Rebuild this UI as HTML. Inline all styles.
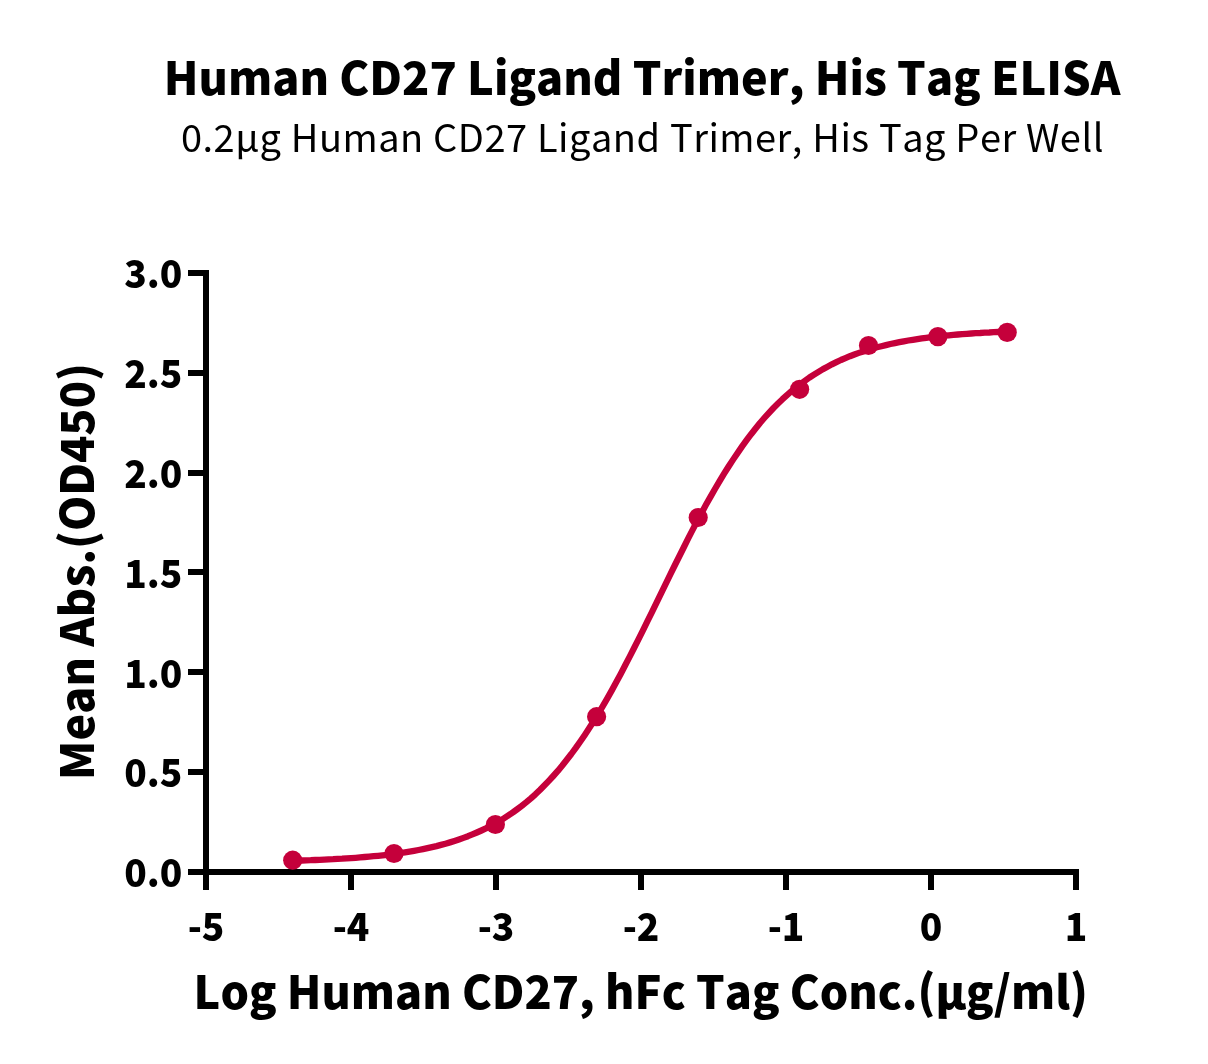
<!DOCTYPE html>
<html lang="en"><head><meta charset="utf-8"><title>Human CD27 Ligand Trimer, His Tag ELISA</title>
<style>
html,body{margin:0;padding:0;background:#fff;}
body{width:1208px;height:1064px;overflow:hidden;}
svg{display:block;}
text{font-family:"Noto Sans CJK SC", "Liberation Sans", sans-serif;fill:#000;font-kerning:none;}
</style></head><body>
<svg width="1208" height="1064" viewBox="0 0 1208 1064">
<rect width="1208" height="1064" fill="#fff"/>
<!-- titles -->
<text transform="translate(163.8,94.5) scale(0.977,1)" font-size="46" font-weight="900">Human CD27 Ligand Trimer, His Tag ELISA</text>
<text transform="translate(180.9,151.5) scale(1,1)" font-size="38" font-weight="400" letter-spacing="0.5" word-spacing="0.3">0.2µg Human CD27 Ligand Trimer, His Tag Per Well</text>
<!-- axes -->
<g fill="#000" shape-rendering="crispEdges">
<rect x="203" y="270" width="6" height="620"/>
<rect x="188" y="869" width="891" height="6"/>
<rect x="188" y="270" width="15" height="6"/>
<rect x="188" y="370" width="15" height="6"/>
<rect x="188" y="470" width="15" height="6"/>
<rect x="188" y="569" width="15" height="6"/>
<rect x="188" y="669" width="15" height="6"/>
<rect x="188" y="769" width="15" height="6"/>
<rect x="348" y="875" width="6" height="15"/>
<rect x="493" y="875" width="6" height="15"/>
<rect x="638" y="875" width="6" height="15"/>
<rect x="783" y="875" width="6" height="15"/>
<rect x="928" y="875" width="6" height="15"/>
<rect x="1073" y="875" width="6" height="15"/>
</g>
<!-- y tick labels -->
<g font-size="38.8" font-weight="900" text-anchor="end">
<text transform="translate(182.3,288.3) scale(0.955,1)">3.0</text>
<text transform="translate(182.3,388.133) scale(0.955,1)">2.5</text>
<text transform="translate(182.3,487.967) scale(0.955,1)">2.0</text>
<text transform="translate(182.3,587.8) scale(0.955,1)">1.5</text>
<text transform="translate(182.3,687.633) scale(0.955,1)">1.0</text>
<text transform="translate(182.3,787.467) scale(0.955,1)">0.5</text>
<text transform="translate(182.3,887.3) scale(0.955,1)">0.0</text>
</g>
<!-- x tick labels -->
<g font-size="38.8" font-weight="900" text-anchor="middle">
<text transform="translate(206,941.3) scale(0.955,1)">-5</text>
<text transform="translate(351,941.3) scale(0.955,1)">-4</text>
<text transform="translate(496,941.3) scale(0.955,1)">-3</text>
<text transform="translate(641,941.3) scale(0.955,1)">-2</text>
<text transform="translate(786,941.3) scale(0.955,1)">-1</text>
<text transform="translate(931,941.3) scale(0.955,1)">0</text>
<text transform="translate(1076,941.3) scale(0.955,1)">1</text>
</g>
<!-- axis titles -->
<text transform="translate(193.6,1008.9) scale(0.975,1)" font-size="46" font-weight="900">Log Human CD27, hFc Tag Conc.(µg/ml)</text>
<text transform="translate(93.9,779.9) rotate(-90) scale(0.987,1)" font-size="45.5" font-weight="900">Mean Abs.(OD450)</text>
<!-- fitted curve and data points -->
<path d="M292.7,860.8 L297.2,860.6 L301.7,860.5 L306.2,860.3 L310.7,860.2 L315.2,860.0 L319.7,859.8 L324.2,859.6 L328.6,859.4 L333.1,859.2 L337.6,858.9 L342.1,858.7 L346.6,858.4 L351.1,858.1 L355.6,857.8 L360.1,857.4 L364.6,857.0 L369.1,856.6 L373.6,856.2 L378.1,855.8 L382.6,855.3 L387.1,854.8 L391.6,854.2 L396.1,853.6 L400.5,853.0 L405.0,852.3 L409.5,851.6 L414.0,850.8 L418.5,850.0 L423.0,849.1 L427.5,848.1 L432.0,847.1 L436.5,846.1 L441.0,844.9 L445.5,843.7 L450.0,842.4 L454.5,841.0 L459.0,839.5 L463.5,837.9 L468.0,836.2 L472.4,834.4 L476.9,832.5 L481.4,830.5 L485.9,828.4 L490.4,826.1 L494.9,823.6 L499.4,821.1 L503.9,818.3 L508.4,815.4 L512.9,812.4 L517.4,809.1 L521.9,805.7 L526.4,802.1 L530.9,798.3 L535.4,794.3 L539.9,790.0 L544.3,785.6 L548.8,780.9 L553.3,776.0 L557.8,770.9 L562.3,765.5 L566.8,759.8 L571.3,754.0 L575.8,747.9 L580.3,741.5 L584.8,734.9 L589.3,728.1 L593.8,721.0 L598.3,713.7 L602.8,706.1 L607.3,698.4 L611.8,690.4 L616.2,682.2 L620.7,673.9 L625.2,665.3 L629.7,656.6 L634.2,647.8 L638.7,638.9 L643.2,629.8 L647.7,620.7 L652.2,611.6 L656.7,602.3 L661.2,593.1 L665.7,583.9 L670.2,574.7 L674.7,565.5 L679.2,556.5 L683.7,547.5 L688.1,538.6 L692.6,529.9 L697.1,521.3 L701.6,512.9 L706.1,504.6 L710.6,496.6 L715.1,488.7 L719.6,481.1 L724.1,473.7 L728.6,466.5 L733.1,459.6 L737.6,452.9 L742.1,446.4 L746.6,440.2 L751.1,434.2 L755.6,428.5 L760.0,423.0 L764.5,417.8 L769.0,412.8 L773.5,408.0 L778.0,403.5 L782.5,399.2 L787.0,395.1 L791.5,391.2 L796.0,387.5 L800.5,384.0 L805.0,380.7 L809.5,377.5 L814.0,374.6 L818.5,371.8 L823.0,369.1 L827.5,366.7 L831.9,364.3 L836.4,362.1 L840.9,360.0 L845.4,358.1 L849.9,356.2 L854.4,354.5 L858.9,352.9 L863.4,351.4 L867.9,349.9 L872.4,348.6 L876.9,347.3 L881.4,346.2 L885.9,345.1 L890.4,344.0 L894.9,343.1 L899.4,342.2 L903.8,341.3 L908.3,340.5 L912.8,339.8 L917.3,339.1 L921.8,338.4 L926.3,337.8 L930.8,337.2 L935.3,336.7 L939.8,336.2 L944.3,335.7 L948.8,335.3 L953.3,334.9 L957.8,334.5 L962.3,334.2 L966.8,333.8 L971.3,333.5 L975.7,333.2 L980.2,333.0 L984.7,332.7 L989.2,332.5 L993.7,332.2 L998.2,332.0 L1002.7,331.8 L1007.2,331.7" fill="none" stroke="#c5003b" stroke-width="6.3" stroke-linecap="round" stroke-linejoin="round"/>
<g fill="#c5003b">
<circle cx="292.7" cy="860.2" r="9.6"/>
<circle cx="394.0" cy="853.5" r="9.6"/>
<circle cx="495.4" cy="824.5" r="9.6"/>
<circle cx="596.6" cy="716.7" r="9.6"/>
<circle cx="698.2" cy="517.5" r="9.6"/>
<circle cx="799.6" cy="389.3" r="9.6"/>
<circle cx="868.5" cy="345.5" r="9.6"/>
<circle cx="937.9" cy="336.6" r="9.6"/>
<circle cx="1007.2" cy="332.4" r="9.6"/>
</g>
</svg></body></html>
